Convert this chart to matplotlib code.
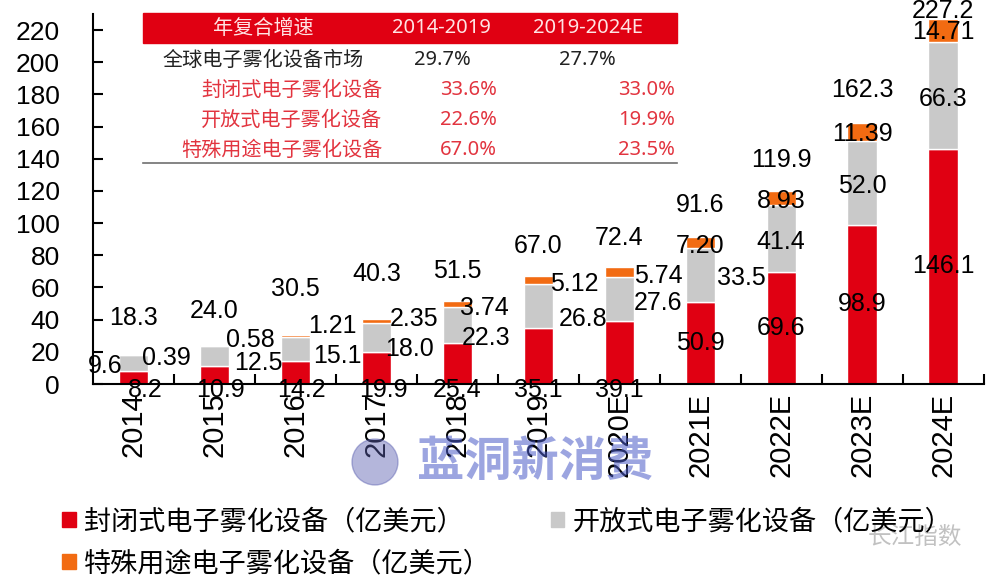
import matplotlib
matplotlib.use('Agg')
import matplotlib.pyplot as plt
import matplotlib.patches as mpatches
import numpy as np

plt.rcParams['font.family'] = ['Liberation Sans', 'Noto Sans CJK SC']
plt.rcParams['axes.unicode_minus'] = False

# Data (亿美元)
years = ['2014', '2015', '2016', '2017', '2018', '2019', '2020E',
         '2021E', '2022E', '2023E', '2024E']
closed = [8.2, 10.9, 14.2, 19.9, 25.4, 35.1, 39.1, 50.9, 69.6, 98.9, 146.1]
open_ = [9.6, 12.5, 15.1, 18.0, 22.3, 26.8, 27.6, 33.5, 41.4, 52.0, 66.3]
special = [0.39, 0.58, 1.21, 2.35, 3.74, 5.12, 5.74, 7.20, 8.93, 11.39, 14.71]
totals = [18.3, 24.0, 30.5, 40.3, 51.5, 67.0, 72.4, 91.6, 119.9, 162.3, 227.2]

legend_labels = ['封闭式电子雾化设备（亿美元）', '开放式电子雾化设备（亿美元）',
                 '特殊用途电子雾化设备（亿美元）']

# CAGR table
cagr_header = ['年复合增速', '2014-2019', '2019-2024E']
cagr_rows = ['全球电子雾化设备市场', '封闭式电子雾化设备', '开放式电子雾化设备', '特殊用途电子雾化设备']
cagr_1419 = ['29.7%', '33.6%', '22.6%', '67.0%']
cagr_1924 = ['27.7%', '33.0%', '19.9%', '23.5%']

# label placement (offsets, as in the original excel chart)
red_dx = [0.15, 0.07, 0.07, 0.09, 0, 0, 0, 0, 0, 0, 0]
red_early = 7  # first bars: labels sit under the axis
gray_dx = [-0.35, 0.54, 0.52, 0.41, 0.36, 0.55, 0.48, 0.51, 0, 0, 0]
gray_dy = [-1.8, -4.2, -4.4, -7.1, -7.9, -8.0, -2.4, -1.7, -2.3, -1.9, -1.8]
orange_dx = [0.41, 0.44, 0.46, 0.46, 0.33, 0.44, 0.48, 0, 0, 0, 0]
orange_dy = [-2, 3.4, 5.5, 0.2, -4, -4.7, -5, -5.6, -6, -6.7, -8.5]
total_dy = [22.7, 21.5, 28.5, 28, 18.5, 19, 18.6, 19.4, 19.6, 20.2, 4.8]

RED = '#E00012'
GRAY = '#C9C9C9'
ORANGE = '#F26B12'
TAB_RED = '#E2343F'

W, H = 1000, 579
fig = plt.figure(figsize=(10, 5.79), dpi=100)
ax = fig.add_axes([93 / W, 1 - 384 / H, (983.5 - 93) / W, (384 - 14) / H])

x = np.arange(len(years))
closed_a = np.array(closed)
open_a = np.array(open_)
special_a = np.array(special)
bw = 0.36

b1 = ax.bar(x, closed_a, bw, color=RED, edgecolor='white', linewidth=1)
b2 = ax.bar(x, open_a, bw, bottom=closed_a, color=GRAY, edgecolor='white', linewidth=1)
b3 = ax.bar(x, special_a, bw, bottom=closed_a + open_a, color=ORANGE,
            edgecolor='white', linewidth=1)

fs = 18
for i in range(len(years)):
    # closed
    ry = -4 if i < red_early else closed[i] / 2
    ax.text(i + red_dx[i], ry, f'{closed[i]:.1f}', ha='center', va='center',
            fontsize=fs, clip_on=False)
    # open
    gy = closed[i] + open_[i] / 2 + gray_dy[i]
    ax.text(i + gray_dx[i], gy, f'{open_[i]:.1f}', ha='center', va='center', fontsize=fs)
    # special
    oy = totals[i] + orange_dy[i]
    ax.text(i + orange_dx[i], oy, f'{special[i]:.2f}', ha='center', va='center', fontsize=fs)
    # total
    ax.text(i, totals[i] + total_dy[i], f'{totals[i]:.1f}', ha='center', va='center',
            fontsize=fs, clip_on=False)

ax.set_xlim(-0.5, len(years) - 0.5)
ax.set_ylim(0, 230)
ax.set_yticks(np.arange(0, 221, 20))
ax.set_xticks(x)
ax.set_xticklabels(years, rotation=90, fontsize=21)
ax.set_xticks(np.arange(0.5, len(years), 1), minor=True)
ax.tick_params(axis='x', which='major', length=0, pad=6)
ax.tick_params(axis='x', which='minor', direction='in', length=7, width=1.5)
ax.tick_params(axis='y', direction='in', length=7, width=1.5, labelsize=19, pad=24)
ax.spines['top'].set_visible(False)
ax.spines['right'].set_visible(False)
ax.spines['left'].set_linewidth(1.5)
ax.spines['bottom'].set_linewidth(1.5)


# CAGR table in figure pixel coordinates
def fx(px):
    return px / W


def fy(py):
    return 1 - py / H


fig.patches.append(mpatches.Rectangle((fx(143), fy(43)), fx(677) - fx(143), fy(13) - fy(43),
                                      transform=fig.transFigure, color=RED, zorder=5))
fig.add_artist(plt.Line2D([fx(143), fx(677)], [fy(163), fy(163)], color='#707070',
                          linewidth=1.2, transform=fig.transFigure))
tfont = ['Noto Sans CJK SC', 'DejaVu Sans']
nfont = ['Noto Sans', 'DejaVu Sans']
tfs = 14.5
fig.text(fx(263), fy(28), cagr_header[0], ha='center', va='center', color='#FFE4E4',
         fontsize=tfs, family=tfont, zorder=6)
fig.text(fx(441), fy(28), cagr_header[1], ha='center', va='center', color='#FFE4E4',
         fontsize=tfs, family=nfont, zorder=6)
fig.text(fx(588), fy(28), cagr_header[2], ha='center', va='center', color='#FFE4E4',
         fontsize=tfs, family=nfont, zorder=6)
row_y = [60, 90, 120, 150]
for k, name in enumerate(cagr_rows):
    if k == 0:
        fig.text(fx(263), fy(row_y[k]), name, ha='center', va='center', color='#222222',
                 fontsize=tfs, family=tfont)
        fig.text(fx(442), fy(row_y[k]), cagr_1419[k], ha='center', va='center',
                 color='#222222', fontsize=tfs, family=nfont)
        fig.text(fx(587), fy(row_y[k]), cagr_1924[k], ha='center', va='center',
                 color='#222222', fontsize=tfs, family=nfont)
    else:
        fig.text(fx(382), fy(row_y[k]), name, ha='right', va='center', color=TAB_RED,
                 fontsize=tfs, family=tfont)
        fig.text(fx(497), fy(row_y[k]), cagr_1419[k], ha='right', va='center',
                 color=TAB_RED, fontsize=tfs, family=nfont)
        fig.text(fx(675), fy(row_y[k]), cagr_1924[k], ha='right', va='center',
                 color=TAB_RED, fontsize=tfs, family=nfont)

# legend
handles = [mpatches.Patch(color=RED), mpatches.Patch(color=ORANGE), mpatches.Patch(color=GRAY)]
labels = [legend_labels[0], legend_labels[2], legend_labels[1]]
fig.legend(handles, labels, ncol=2, loc='upper left', bbox_to_anchor=(fx(38), fy(484)),
           frameon=False, prop={'family': tfont, 'size': 19.5}, handlelength=0.5,
           handleheight=0.5, handletextpad=0.3, columnspacing=2.2, labelspacing=0.55)

# watermarks
fig.text(fx(535), fy(462), '蓝洞新消费', ha='center', va='center', fontsize=34,
         fontweight='bold', style='italic', color='#4B5BC8', alpha=0.55, family=tfont)
fig.patches.append(mpatches.Ellipse((fx(375), fy(462)), 46 / W, 46 / H,
                                    transform=fig.transFigure, color='#5A5FB0', alpha=0.45))
fig.text(fx(915), fy(537), '长江指数', ha='center', va='center', fontsize=17,
         color='#999999', alpha=0.6, family=tfont)

fig.savefig('out.png', dpi=100)
